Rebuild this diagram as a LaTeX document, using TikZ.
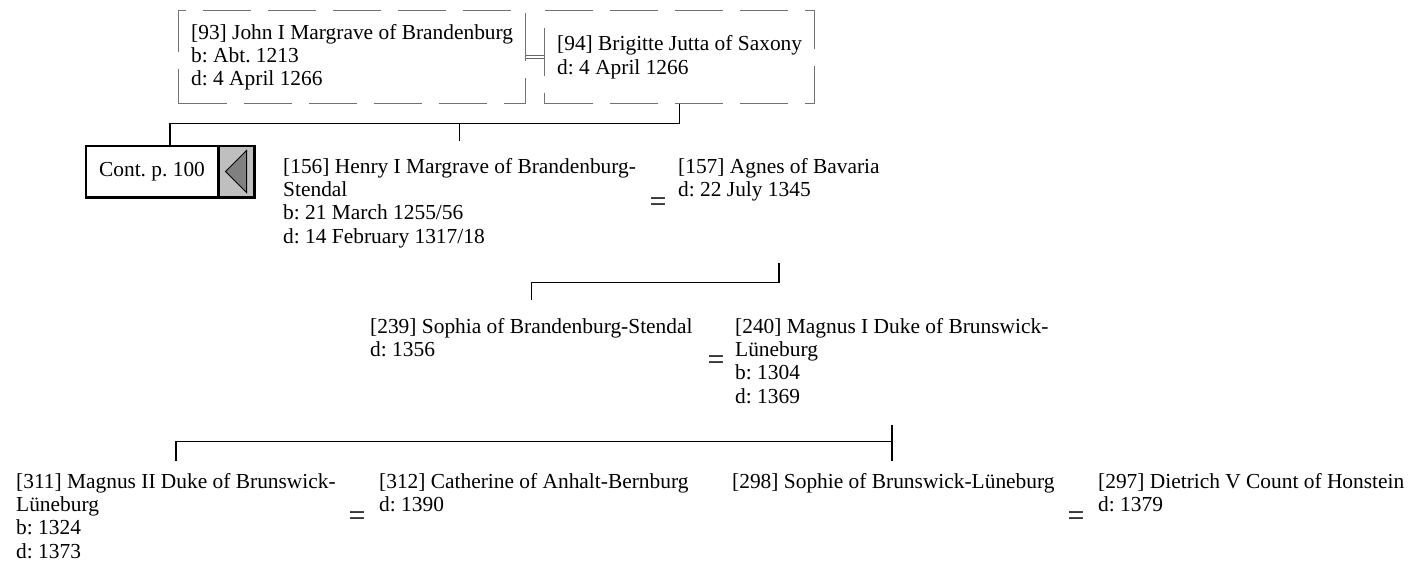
\documentclass[tikz,border=0pt]{standalone}
\usepackage{fontspec}
\setmainfont{Liberation Serif}
\usetikzlibrary{positioning, calc}
\frenchspacing

\tikzset{
  person/.style={anchor=north west, align=left, inner sep=0pt},
  ghost/.style={draw=black!55, line width=1.3pt, dash pattern=on 48pt off 17pt,
    anchor=north west, align=left, minimum height=93pt, inner sep=0pt},
  link/.style={line width=1.5pt},
  wed/.style={inner sep=0pt, font=\fontsize{30}{30}\selectfont}
}

\begin{document}
\begin{tikzpicture}[x=1pt, y=-1pt, font=\fontsize{21.4}{23.3}\selectfont]
  \useasboundingbox (0,0) rectangle (1412,568);
  % parents, continued from another page (dashed)
  \node[ghost, minimum width=347pt] (john) at (178,10)
    {[93] John I Margrave of Brandenburg\\b: Abt. 1213\\d: 4 April 1266};
  \node[ghost, minimum width=270pt] (brigitte) at (544,10)
    {[94] Brigitte Jutta of Saxony\\d: 4 April 1266};
  \draw[double, double distance=2.4pt, black!60, line width=0.9pt] (john.east) -- (brigitte.west);
  % continuation box
  \node[draw, line width=1.5pt, minimum width=132pt, minimum height=51pt, inner sep=0pt] (cont) at (152,171.5) {Cont. p. 100};
  \node[draw, line width=1.5pt, fill=black!25, minimum width=34pt, minimum height=51pt, inner sep=0pt, anchor=west] (tab) at (cont.east) {};
  \draw[fill=black!50, line width=1pt] (tab.center) ++(-11,0) -- ++(21,-21) -- ++(0,42) -- cycle;
  \draw[line width=2.6pt] (cont.south west) -- (tab.south east) -- (tab.north east);
  \coordinate (conttop) at ($(cont.north west)!0.5!(tab.north east)$);
  % second generation
  \node[person] (henry) at (283,158)
    {[156] Henry I Margrave of Brandenburg-\\Stendal\\b: 21 March 1255/56\\d: 14 February 1317/18};
  \node[wed] (wed2) at (658,205) {=};
  \node[person] (agnes) at (678,158) {[157] Agnes of Bavaria\\d: 22 July 1345};
  \draw[link] (brigitte.south) -- ++(0,19) coordinate (bar1) -| (conttop);
  \draw[link] (bar1 -| henry.north) -- ([yshift=17pt]henry.north);
  % third generation
  \node[person] (sophia) at (370,318) {[239] Sophia of Brandenburg-Stendal\\d: 1356};
  \node[wed] (wed3) at (716,363) {=};
  \node[person] (magnus) at (735,318)
    {[240] Magnus I Duke of Brunswick-\\Lüneburg\\b: 1304\\d: 1369};
  \draw[link] (agnes.south |- henry.south) ++(0,15.5) -- ++(0,19) -| ([yshift=18pt]sophia.north);
  % fourth generation
  \node[person] (magnustwo) at (16,473)
    {[311] Magnus II Duke of Brunswick-\\Lüneburg\\b: 1324\\d: 1373};
  \node[wed] (wed4) at (357,519) {=};
  \node[person] (catherine) at (379,473) {[312] Catherine of Anhalt-Bernburg\\d: 1390};
  \node[person] (sophie) at (732,473) {[298] Sophie of Brunswick-Lüneburg};
  \node[wed] (wed5) at (1076,519) {=};
  \node[person] (dietrich) at (1098,473) {[297] Dietrich V Count of Honstein\\d: 1379};
  \draw[link] (magnus.south) ++(0,21) -- ++(0,17) coordinate (bar3) -| ([yshift=12pt]magnustwo.north);
  \draw[link] (bar3) -- ([yshift=12pt]bar3 |- sophie.north);
\end{tikzpicture}
\end{document}
